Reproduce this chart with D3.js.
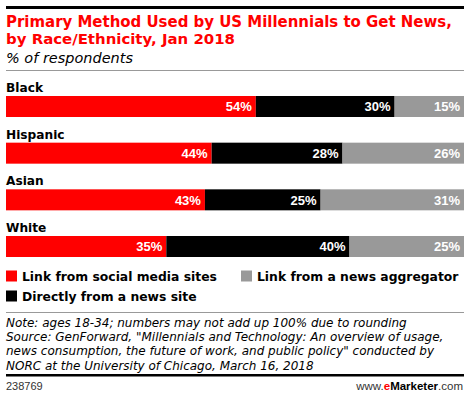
<!DOCTYPE html>
<html><head><meta charset="utf-8">
<script src="https://cdn.jsdelivr.net/npm/d3@7/dist/d3.min.js"></script>
<style>body{margin:0;background:#fff}svg{display:block}</style>
</head><body><svg id="c" width="471" height="396"></svg>
<script>
const categories = ["Black", "Hispanic", "Asian", "White"];
const seriesNames = ["Link from social media sites", "Directly from a news site", "Link from a news aggregator"];
const socialMedia = [54, 44, 43, 35];
const directly = [30, 28, 25, 40];
const aggregator = [15, 26, 31, 25];
const colors = ["#ff0000", "#000000", "#999999"];
const titleLines = ["Primary Method Used by US Millennials to Get News,", "by Race/Ethnicity, Jan 2018"];
const subtitle = "% of respondents";
const noteLines = [
  "Note: ages 18-34; numbers may not add up 100% due to rounding",
  "Source: GenForward, \"Millennials and Technology: An overview of usage,",
  "news consumption, the future of work, and public policy\" conducted by",
  "NORC at the University of Chicago, March 16, 2018"
];
const chartId = "238769";

const svg = d3.select("#c");
const L = 6, R = 464;
const F = "'DejaVu Sans', Verdana, sans-serif";
const FA = "'Liberation Sans', Arial, sans-serif";

function fit(sel, target) {
  const n = sel.node();
  const w = n.getComputedTextLength();
  const fs = parseFloat(sel.attr("font-size"));
  sel.attr("font-size", (fs * target / w).toFixed(2));
  return fs * target / w;
}

// top rule
svg.append("rect").attr("x", L).attr("y", 6).attr("width", R - L).attr("height", 3).attr("fill", "#000");

// title
const t1 = svg.append("text").attr("x", L).attr("y", 27).attr("font-family", F).attr("font-weight", "bold")
  .attr("font-size", 16).attr("fill", "#ff0000").text(titleLines[0]);
const tfs = fit(t1, 446);
svg.append("text").attr("x", L).attr("y", 44).attr("font-family", F).attr("font-weight", "bold")
  .attr("font-size", tfs).attr("fill", "#ff0000").text(titleLines[1]);
const st = svg.append("text").attr("x", L).attr("y", 63).attr("font-family", F).attr("font-style", "italic")
  .attr("font-size", 14).attr("fill", "#000").text(subtitle);
fit(st, 127);
svg.append("rect").attr("x", L).attr("y", 70).attr("width", R - L).attr("height", 1).attr("fill", "#999");

// bars
const y = d3.scaleBand().domain(categories).range([96, 257]).paddingInner(0.55).paddingOuter(0);
const series = [socialMedia, directly, aggregator];
const rows = categories.map((c, i) => {
  const vals = series.map(s => s[i]);
  const total = d3.sum(vals);
  const x = d3.scaleLinear().domain([0, total]).range([L, R]);
  let acc = 0;
  const segs = vals.map((v, k) => { const s = {k, v, x0: x(acc), x1: x(acc + v)}; acc += v; return s; });
  return {c, segs};
});

let catFs = null;
rows.forEach((r, i) => {
  const g = svg.append("g");
  const lab = g.append("text").attr("x", L).attr("y", y(r.c) - 4).attr("font-family", F).attr("font-weight", "bold")
    .attr("font-size", 14).attr("fill", "#000").text(r.c);
  if (catFs === null) catFs = fit(lab, 37); else lab.attr("font-size", catFs);
  g.selectAll("rect").data(r.segs).join("rect")
    .attr("x", d => d.x0).attr("y", y(r.c)).attr("width", d => d.x1 - d.x0).attr("height", y.bandwidth())
    .attr("fill", d => colors[d.k]);
  g.selectAll("text.v").data(r.segs).join("text").attr("class", "v")
    .attr("x", d => d.x1 - 4).attr("y", y(r.c) + y.bandwidth() / 2 + 4.7)
    .attr("text-anchor", "end").attr("font-family", FA).attr("font-weight", "bold").attr("font-size", 13)
    .attr("fill", "#fff").text(d => d.v + "%");
});

// legend
const legendPos = [{x: 6, y: 270.5}, {x: 6, y: 290.5}, {x: 241, y: 270.5}];
let legFs = null;
seriesNames.forEach((n, k) => {
  const p = legendPos[k];
  svg.append("rect").attr("x", p.x).attr("y", p.y).attr("width", 11).attr("height", 11).attr("fill", colors[k]);
  const t = svg.append("text").attr("x", p.x + 16).attr("y", p.y + 10).attr("font-family", F).attr("font-weight", "bold")
    .attr("font-size", 14).attr("fill", "#000").text(n);
  if (legFs === null) legFs = fit(t, 195); else t.attr("font-size", legFs);
});

svg.append("rect").attr("x", L).attr("y", 312).attr("width", R - L).attr("height", 1).attr("fill", "#999");

// notes
let noteFs = null;
noteLines.forEach((n, i) => {
  const t = svg.append("text").attr("x", L).attr("y", 326.5 + i * 14.4).attr("font-family", F).attr("font-style", "italic")
    .attr("font-size", 13).attr("fill", "#000").text(n);
  if (noteFs === null) noteFs = fit(t, 401); else t.attr("font-size", noteFs);
});

svg.append("rect").attr("x", L).attr("y", 374).attr("width", R - L).attr("height", 2.5).attr("fill", "#000");

svg.append("text").attr("x", L).attr("y", 390).attr("font-family", FA).attr("font-size", 11).attr("fill", "#333").text(chartId);
const ft = svg.append("text").attr("x", R - 1).attr("y", 390).attr("text-anchor", "end").attr("font-family", FA)
  .attr("font-size", 11.5).attr("fill", "#333");
ft.append("tspan").text("www.");
ft.append("tspan").attr("fill", "#ff0000").attr("font-weight", "bold").text("e");
ft.append("tspan").attr("fill", "#000").attr("font-weight", "bold").text("Marketer");
ft.append("tspan").text(".com");
</script></body></html>
